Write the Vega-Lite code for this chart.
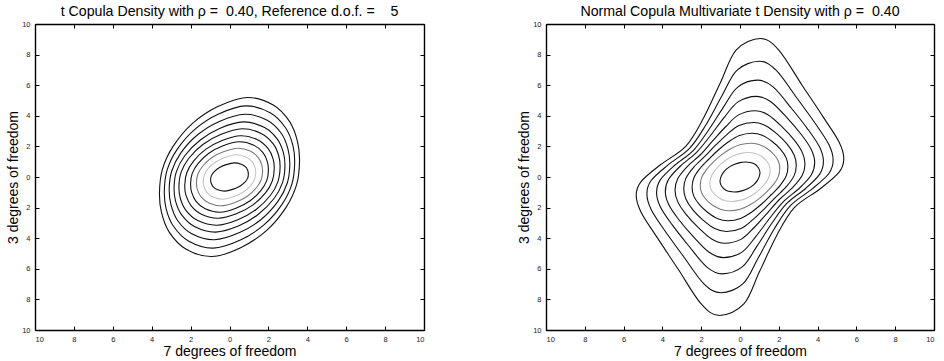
{
"$schema":"https://vega.github.io/schema/vega-lite/v6.json",
"background":"white",
"padding":{"left":6,"top":4,"right":5,"bottom":0},
"bounds":"flush",
"spacing":122,
"config":{
 "font":"Liberation Sans",
 "view":{"stroke":"black","strokeWidth":1},
 "axis":{"grid":false,"domainColor":"black","domainWidth":1.4,"tickColor":"black","tickSize":-4,"labelFontSize":7.5,"labelColor":"#222","titleFontSize":14,"titleFontWeight":"normal","titleColor":"black","labelPadding":9,"titlePadding":4},
 "title":{"fontSize":14.2,"fontWeight":"normal","offset":1,"color":"black"}
},
"data":{"values":[
{"p":"L","l":1,"i":0,"x":0.9,"y":5.2},{"p":"L","l":1,"i":1,"x":2.25,"y":4.7},{"p":"L","l":1,"i":2,"x":3.1,"y":3.6},{"p":"L","l":1,"i":3,"x":3.5,"y":2.3},{"p":"L","l":1,"i":4,"x":3.6,"y":1.0},{"p":"L","l":1,"i":5,"x":3.45,"y":-0.5},{"p":"L","l":1,"i":6,"x":2.9,"y":-2.0},{"p":"L","l":1,"i":7,"x":1.9,"y":-3.5},{"p":"L","l":1,"i":8,"x":0.6,"y":-4.6},
{"p":"L","l":1,"i":9,"x":-0.9,"y":-5.2},{"p":"L","l":1,"i":10,"x":-2.25,"y":-4.7},{"p":"L","l":1,"i":11,"x":-3.1,"y":-3.6},{"p":"L","l":1,"i":12,"x":-3.5,"y":-2.3},{"p":"L","l":1,"i":13,"x":-3.6,"y":-1.0},{"p":"L","l":1,"i":14,"x":-3.45,"y":0.5},{"p":"L","l":1,"i":15,"x":-2.9,"y":2.0},{"p":"L","l":1,"i":16,"x":-1.9,"y":3.5},{"p":"L","l":1,"i":17,"x":-0.6,"y":4.6},
{"p":"L","l":2,"i":0,"x":0.84,"y":4.65},{"p":"L","l":2,"i":1,"x":2.09,"y":4.2},{"p":"L","l":2,"i":2,"x":2.88,"y":3.22},{"p":"L","l":2,"i":3,"x":3.26,"y":2.06},{"p":"L","l":2,"i":4,"x":3.35,"y":0.89},{"p":"L","l":2,"i":5,"x":3.21,"y":-0.45},{"p":"L","l":2,"i":6,"x":2.7,"y":-1.79},{"p":"L","l":2,"i":7,"x":1.77,"y":-3.13},{"p":"L","l":2,"i":8,"x":0.56,"y":-4.12},
{"p":"L","l":2,"i":9,"x":-0.84,"y":-4.65},{"p":"L","l":2,"i":10,"x":-2.09,"y":-4.2},{"p":"L","l":2,"i":11,"x":-2.88,"y":-3.22},{"p":"L","l":2,"i":12,"x":-3.26,"y":-2.06},{"p":"L","l":2,"i":13,"x":-3.35,"y":-0.89},{"p":"L","l":2,"i":14,"x":-3.21,"y":0.45},{"p":"L","l":2,"i":15,"x":-2.7,"y":1.79},{"p":"L","l":2,"i":16,"x":-1.77,"y":3.13},{"p":"L","l":2,"i":17,"x":-0.56,"y":4.12},
{"p":"L","l":3,"i":0,"x":0.78,"y":4.1},{"p":"L","l":3,"i":1,"x":1.94,"y":3.71},{"p":"L","l":3,"i":2,"x":2.67,"y":2.84},{"p":"L","l":3,"i":3,"x":3.01,"y":1.81},{"p":"L","l":3,"i":4,"x":3.1,"y":0.79},{"p":"L","l":3,"i":5,"x":2.97,"y":-0.39},{"p":"L","l":3,"i":6,"x":2.5,"y":-1.58},{"p":"L","l":3,"i":7,"x":1.64,"y":-2.76},{"p":"L","l":3,"i":8,"x":0.52,"y":-3.63},
{"p":"L","l":3,"i":9,"x":-0.78,"y":-4.1},{"p":"L","l":3,"i":10,"x":-1.94,"y":-3.71},{"p":"L","l":3,"i":11,"x":-2.67,"y":-2.84},{"p":"L","l":3,"i":12,"x":-3.01,"y":-1.81},{"p":"L","l":3,"i":13,"x":-3.1,"y":-0.79},{"p":"L","l":3,"i":14,"x":-2.97,"y":0.39},{"p":"L","l":3,"i":15,"x":-2.5,"y":1.58},{"p":"L","l":3,"i":16,"x":-1.64,"y":2.76},{"p":"L","l":3,"i":17,"x":-0.52,"y":3.63},
{"p":"L","l":4,"i":0,"x":0.71,"y":3.6},{"p":"L","l":4,"i":1,"x":1.78,"y":3.25},{"p":"L","l":4,"i":2,"x":2.45,"y":2.49},{"p":"L","l":4,"i":3,"x":2.77,"y":1.59},{"p":"L","l":4,"i":4,"x":2.85,"y":0.69},{"p":"L","l":4,"i":5,"x":2.73,"y":-0.35},{"p":"L","l":4,"i":6,"x":2.3,"y":-1.39},{"p":"L","l":4,"i":7,"x":1.5,"y":-2.42},{"p":"L","l":4,"i":8,"x":0.48,"y":-3.19},
{"p":"L","l":4,"i":9,"x":-0.71,"y":-3.6},{"p":"L","l":4,"i":10,"x":-1.78,"y":-3.25},{"p":"L","l":4,"i":11,"x":-2.45,"y":-2.49},{"p":"L","l":4,"i":12,"x":-2.77,"y":-1.59},{"p":"L","l":4,"i":13,"x":-2.85,"y":-0.69},{"p":"L","l":4,"i":14,"x":-2.73,"y":0.35},{"p":"L","l":4,"i":15,"x":-2.3,"y":1.39},{"p":"L","l":4,"i":16,"x":-1.5,"y":2.42},{"p":"L","l":4,"i":17,"x":-0.48,"y":3.19},
{"p":"L","l":5,"i":0,"x":0.65,"y":3.15},{"p":"L","l":5,"i":1,"x":1.63,"y":2.85},{"p":"L","l":5,"i":2,"x":2.24,"y":2.18},{"p":"L","l":5,"i":3,"x":2.53,"y":1.39},{"p":"L","l":5,"i":4,"x":2.6,"y":0.6},{"p":"L","l":5,"i":5,"x":2.49,"y":-0.3},{"p":"L","l":5,"i":6,"x":2.1,"y":-1.21},{"p":"L","l":5,"i":7,"x":1.37,"y":-2.12},{"p":"L","l":5,"i":8,"x":0.43,"y":-2.79},
{"p":"L","l":5,"i":9,"x":-0.65,"y":-3.15},{"p":"L","l":5,"i":10,"x":-1.63,"y":-2.85},{"p":"L","l":5,"i":11,"x":-2.24,"y":-2.18},{"p":"L","l":5,"i":12,"x":-2.53,"y":-1.39},{"p":"L","l":5,"i":13,"x":-2.6,"y":-0.6},{"p":"L","l":5,"i":14,"x":-2.49,"y":0.3},{"p":"L","l":5,"i":15,"x":-2.1,"y":1.21},{"p":"L","l":5,"i":16,"x":-1.37,"y":2.12},{"p":"L","l":5,"i":17,"x":-0.43,"y":2.79},
{"p":"L","l":6,"i":0,"x":0.58,"y":2.7},{"p":"L","l":6,"i":1,"x":1.44,"y":2.44},{"p":"L","l":6,"i":2,"x":1.98,"y":1.87},{"p":"L","l":6,"i":3,"x":2.24,"y":1.19},{"p":"L","l":6,"i":4,"x":2.3,"y":0.52},{"p":"L","l":6,"i":5,"x":2.2,"y":-0.26},{"p":"L","l":6,"i":6,"x":1.85,"y":-1.04},{"p":"L","l":6,"i":7,"x":1.21,"y":-1.82},{"p":"L","l":6,"i":8,"x":0.38,"y":-2.39},
{"p":"L","l":6,"i":9,"x":-0.58,"y":-2.7},{"p":"L","l":6,"i":10,"x":-1.44,"y":-2.44},{"p":"L","l":6,"i":11,"x":-1.98,"y":-1.87},{"p":"L","l":6,"i":12,"x":-2.24,"y":-1.19},{"p":"L","l":6,"i":13,"x":-2.3,"y":-0.52},{"p":"L","l":6,"i":14,"x":-2.2,"y":0.26},{"p":"L","l":6,"i":15,"x":-1.85,"y":1.04},{"p":"L","l":6,"i":16,"x":-1.21,"y":1.82},{"p":"L","l":6,"i":17,"x":-0.38,"y":2.39},
{"p":"L","l":7,"i":0,"x":0.5,"y":2.3},{"p":"L","l":7,"i":1,"x":1.25,"y":2.08},{"p":"L","l":7,"i":2,"x":1.72,"y":1.59},{"p":"L","l":7,"i":3,"x":1.94,"y":1.02},{"p":"L","l":7,"i":4,"x":2.0,"y":0.44},{"p":"L","l":7,"i":5,"x":1.92,"y":-0.22},{"p":"L","l":7,"i":6,"x":1.61,"y":-0.89},{"p":"L","l":7,"i":7,"x":1.06,"y":-1.55},{"p":"L","l":7,"i":8,"x":0.33,"y":-2.04},
{"p":"L","l":7,"i":9,"x":-0.5,"y":-2.3},{"p":"L","l":7,"i":10,"x":-1.25,"y":-2.08},{"p":"L","l":7,"i":11,"x":-1.72,"y":-1.59},{"p":"L","l":7,"i":12,"x":-1.94,"y":-1.02},{"p":"L","l":7,"i":13,"x":-2.0,"y":-0.44},{"p":"L","l":7,"i":14,"x":-1.92,"y":0.22},{"p":"L","l":7,"i":15,"x":-1.61,"y":0.89},{"p":"L","l":7,"i":16,"x":-1.06,"y":1.55},{"p":"L","l":7,"i":17,"x":-0.33,"y":2.04},
{"p":"L","l":8,"i":0,"x":0.43,"y":1.88},{"p":"L","l":8,"i":1,"x":1.06,"y":1.7},{"p":"L","l":8,"i":2,"x":1.46,"y":1.3},{"p":"L","l":8,"i":3,"x":1.65,"y":0.83},{"p":"L","l":8,"i":4,"x":1.7,"y":0.36},{"p":"L","l":8,"i":5,"x":1.63,"y":-0.18},{"p":"L","l":8,"i":6,"x":1.37,"y":-0.72},{"p":"L","l":8,"i":7,"x":0.9,"y":-1.27},{"p":"L","l":8,"i":8,"x":0.28,"y":-1.66},
{"p":"L","l":8,"i":9,"x":-0.43,"y":-1.88},{"p":"L","l":8,"i":10,"x":-1.06,"y":-1.7},{"p":"L","l":8,"i":11,"x":-1.46,"y":-1.3},{"p":"L","l":8,"i":12,"x":-1.65,"y":-0.83},{"p":"L","l":8,"i":13,"x":-1.7,"y":-0.36},{"p":"L","l":8,"i":14,"x":-1.63,"y":0.18},{"p":"L","l":8,"i":15,"x":-1.37,"y":0.72},{"p":"L","l":8,"i":16,"x":-0.9,"y":1.27},{"p":"L","l":8,"i":17,"x":-0.28,"y":1.66},
{"p":"L","l":9,"i":0,"x":0.34,"y":1.45},{"p":"L","l":9,"i":1,"x":0.84,"y":1.31},{"p":"L","l":9,"i":2,"x":1.16,"y":1.0},{"p":"L","l":9,"i":3,"x":1.31,"y":0.64},{"p":"L","l":9,"i":4,"x":1.35,"y":0.28},{"p":"L","l":9,"i":5,"x":1.29,"y":-0.14},{"p":"L","l":9,"i":6,"x":1.09,"y":-0.56},{"p":"L","l":9,"i":7,"x":0.71,"y":-0.98},{"p":"L","l":9,"i":8,"x":0.23,"y":-1.28},
{"p":"L","l":9,"i":9,"x":-0.34,"y":-1.45},{"p":"L","l":9,"i":10,"x":-0.84,"y":-1.31},{"p":"L","l":9,"i":11,"x":-1.16,"y":-1.0},{"p":"L","l":9,"i":12,"x":-1.31,"y":-0.64},{"p":"L","l":9,"i":13,"x":-1.35,"y":-0.28},{"p":"L","l":9,"i":14,"x":-1.29,"y":0.14},{"p":"L","l":9,"i":15,"x":-1.09,"y":0.56},{"p":"L","l":9,"i":16,"x":-0.71,"y":0.98},{"p":"L","l":9,"i":17,"x":-0.23,"y":1.28},
{"p":"L","l":10,"i":0,"x":0.24,"y":0.92},{"p":"L","l":10,"i":1,"x":0.61,"y":0.83},{"p":"L","l":10,"i":2,"x":0.84,"y":0.64},{"p":"L","l":10,"i":3,"x":0.94,"y":0.41},{"p":"L","l":10,"i":4,"x":0.97,"y":0.18},{"p":"L","l":10,"i":5,"x":0.93,"y":-0.09},{"p":"L","l":10,"i":6,"x":0.78,"y":-0.35},{"p":"L","l":10,"i":7,"x":0.51,"y":-0.62},{"p":"L","l":10,"i":8,"x":0.16,"y":-0.81},
{"p":"L","l":10,"i":9,"x":-0.24,"y":-0.92},{"p":"L","l":10,"i":10,"x":-0.61,"y":-0.83},{"p":"L","l":10,"i":11,"x":-0.84,"y":-0.64},{"p":"L","l":10,"i":12,"x":-0.94,"y":-0.41},{"p":"L","l":10,"i":13,"x":-0.97,"y":-0.18},{"p":"L","l":10,"i":14,"x":-0.93,"y":0.09},{"p":"L","l":10,"i":15,"x":-0.78,"y":0.35},{"p":"L","l":10,"i":16,"x":-0.51,"y":0.62},{"p":"L","l":10,"i":17,"x":-0.16,"y":0.81},
{"p":"R","l":1,"i":0,"x":1.05,"y":9.05},{"p":"R","l":1,"i":1,"x":2.0,"y":8.3},{"p":"R","l":1,"i":2,"x":3.2,"y":6.0},{"p":"R","l":1,"i":3,"x":4.3,"y":3.9},{"p":"R","l":1,"i":4,"x":5.1,"y":2.3},{"p":"R","l":1,"i":5,"x":5.35,"y":1.2},{"p":"R","l":1,"i":6,"x":5.1,"y":0.3},{"p":"R","l":1,"i":7,"x":4.1,"y":-0.8},{"p":"R","l":1,"i":8,"x":2.8,"y":-2.0},{"p":"R","l":1,"i":9,"x":1.9,"y":-3.8},{"p":"R","l":1,"i":10,"x":1.0,"y":-6.2},{"p":"R","l":1,"i":11,"x":0.2,"y":-8.3},
{"p":"R","l":1,"i":12,"x":-1.05,"y":-9.05},{"p":"R","l":1,"i":13,"x":-2.0,"y":-8.3},{"p":"R","l":1,"i":14,"x":-3.2,"y":-6.0},{"p":"R","l":1,"i":15,"x":-4.3,"y":-3.9},{"p":"R","l":1,"i":16,"x":-5.1,"y":-2.3},{"p":"R","l":1,"i":17,"x":-5.35,"y":-1.2},{"p":"R","l":1,"i":18,"x":-5.1,"y":-0.3},{"p":"R","l":1,"i":19,"x":-4.1,"y":0.8},{"p":"R","l":1,"i":20,"x":-2.8,"y":2.0},{"p":"R","l":1,"i":21,"x":-1.9,"y":3.8},{"p":"R","l":1,"i":22,"x":-1.0,"y":6.2},{"p":"R","l":1,"i":23,"x":-0.2,"y":8.3},
{"p":"R","l":2,"i":0,"x":0.98,"y":7.57},{"p":"R","l":2,"i":1,"x":1.86,"y":6.98},{"p":"R","l":2,"i":2,"x":2.92,"y":5.18},{"p":"R","l":2,"i":3,"x":3.89,"y":3.48},{"p":"R","l":2,"i":4,"x":4.58,"y":2.12},{"p":"R","l":2,"i":5,"x":4.8,"y":1.11},{"p":"R","l":2,"i":6,"x":4.58,"y":0.23},{"p":"R","l":2,"i":7,"x":3.72,"y":-0.78},{"p":"R","l":2,"i":8,"x":2.6,"y":-1.87},{"p":"R","l":2,"i":9,"x":1.77,"y":-3.38},{"p":"R","l":2,"i":10,"x":0.93,"y":-5.31},{"p":"R","l":2,"i":11,"x":0.16,"y":-6.97},
{"p":"R","l":2,"i":12,"x":-0.98,"y":-7.57},{"p":"R","l":2,"i":13,"x":-1.86,"y":-6.98},{"p":"R","l":2,"i":14,"x":-2.92,"y":-5.18},{"p":"R","l":2,"i":15,"x":-3.89,"y":-3.48},{"p":"R","l":2,"i":16,"x":-4.58,"y":-2.12},{"p":"R","l":2,"i":17,"x":-4.8,"y":-1.11},{"p":"R","l":2,"i":18,"x":-4.58,"y":-0.23},{"p":"R","l":2,"i":19,"x":-3.72,"y":0.78},{"p":"R","l":2,"i":20,"x":-2.6,"y":1.87},{"p":"R","l":2,"i":21,"x":-1.77,"y":3.38},{"p":"R","l":2,"i":22,"x":-0.93,"y":5.31},{"p":"R","l":2,"i":23,"x":-0.16,"y":6.97},
{"p":"R","l":3,"i":0,"x":0.91,"y":6.33},{"p":"R","l":3,"i":1,"x":1.72,"y":5.87},{"p":"R","l":3,"i":2,"x":2.67,"y":4.46},{"p":"R","l":3,"i":3,"x":3.51,"y":3.1},{"p":"R","l":3,"i":4,"x":4.11,"y":1.94},{"p":"R","l":3,"i":5,"x":4.3,"y":1.03},{"p":"R","l":3,"i":6,"x":4.11,"y":0.19},{"p":"R","l":3,"i":7,"x":3.38,"y":-0.75},{"p":"R","l":3,"i":8,"x":2.41,"y":-1.73},{"p":"R","l":3,"i":9,"x":1.65,"y":-3.01},{"p":"R","l":3,"i":10,"x":0.86,"y":-4.55},{"p":"R","l":3,"i":11,"x":0.13,"y":-5.86},
{"p":"R","l":3,"i":12,"x":-0.91,"y":-6.33},{"p":"R","l":3,"i":13,"x":-1.72,"y":-5.87},{"p":"R","l":3,"i":14,"x":-2.67,"y":-4.46},{"p":"R","l":3,"i":15,"x":-3.51,"y":-3.1},{"p":"R","l":3,"i":16,"x":-4.11,"y":-1.94},{"p":"R","l":3,"i":17,"x":-4.3,"y":-1.03},{"p":"R","l":3,"i":18,"x":-4.11,"y":-0.19},{"p":"R","l":3,"i":19,"x":-3.38,"y":0.75},{"p":"R","l":3,"i":20,"x":-2.41,"y":1.73},{"p":"R","l":3,"i":21,"x":-1.65,"y":3.01},{"p":"R","l":3,"i":22,"x":-0.86,"y":4.55},{"p":"R","l":3,"i":23,"x":-0.13,"y":5.86},
{"p":"R","l":4,"i":0,"x":0.85,"y":5.27},{"p":"R","l":4,"i":1,"x":1.59,"y":4.92},{"p":"R","l":4,"i":2,"x":2.44,"y":3.85},{"p":"R","l":4,"i":3,"x":3.17,"y":2.76},{"p":"R","l":4,"i":4,"x":3.68,"y":1.78},{"p":"R","l":4,"i":5,"x":3.85,"y":0.94},{"p":"R","l":4,"i":6,"x":3.68,"y":0.15},{"p":"R","l":4,"i":7,"x":3.07,"y":-0.72},{"p":"R","l":4,"i":8,"x":2.24,"y":-1.61},{"p":"R","l":4,"i":9,"x":1.54,"y":-2.68},{"p":"R","l":4,"i":10,"x":0.81,"y":-3.9},{"p":"R","l":4,"i":11,"x":0.1,"y":-4.91},
{"p":"R","l":4,"i":12,"x":-0.85,"y":-5.27},{"p":"R","l":4,"i":13,"x":-1.59,"y":-4.92},{"p":"R","l":4,"i":14,"x":-2.44,"y":-3.85},{"p":"R","l":4,"i":15,"x":-3.17,"y":-2.76},{"p":"R","l":4,"i":16,"x":-3.68,"y":-1.78},{"p":"R","l":4,"i":17,"x":-3.85,"y":-0.94},{"p":"R","l":4,"i":18,"x":-3.68,"y":-0.15},{"p":"R","l":4,"i":19,"x":-3.07,"y":0.72},{"p":"R","l":4,"i":20,"x":-2.24,"y":1.61},{"p":"R","l":4,"i":21,"x":-1.54,"y":2.68},{"p":"R","l":4,"i":22,"x":-0.81,"y":3.9},{"p":"R","l":4,"i":23,"x":-0.1,"y":4.91},
{"p":"R","l":5,"i":0,"x":0.78,"y":4.33},{"p":"R","l":5,"i":1,"x":1.44,"y":4.07},{"p":"R","l":5,"i":2,"x":2.17,"y":3.28},{"p":"R","l":5,"i":3,"x":2.79,"y":2.43},{"p":"R","l":5,"i":4,"x":3.21,"y":1.61},{"p":"R","l":5,"i":5,"x":3.35,"y":0.85},{"p":"R","l":5,"i":6,"x":3.21,"y":0.11},{"p":"R","l":5,"i":7,"x":2.72,"y":-0.68},{"p":"R","l":5,"i":8,"x":2.03,"y":-1.47},{"p":"R","l":5,"i":9,"x":1.41,"y":-2.36},{"p":"R","l":5,"i":10,"x":0.73,"y":-3.3},{"p":"R","l":5,"i":11,"x":0.07,"y":-4.06},
{"p":"R","l":5,"i":12,"x":-0.78,"y":-4.33},{"p":"R","l":5,"i":13,"x":-1.44,"y":-4.07},{"p":"R","l":5,"i":14,"x":-2.17,"y":-3.28},{"p":"R","l":5,"i":15,"x":-2.79,"y":-2.43},{"p":"R","l":5,"i":16,"x":-3.21,"y":-1.61},{"p":"R","l":5,"i":17,"x":-3.35,"y":-0.85},{"p":"R","l":5,"i":18,"x":-3.21,"y":-0.11},{"p":"R","l":5,"i":19,"x":-2.72,"y":0.68},{"p":"R","l":5,"i":20,"x":-2.03,"y":1.47},{"p":"R","l":5,"i":21,"x":-1.41,"y":2.36},{"p":"R","l":5,"i":22,"x":-0.73,"y":3.3},{"p":"R","l":5,"i":23,"x":-0.07,"y":4.06},
{"p":"R","l":6,"i":0,"x":0.7,"y":3.56},{"p":"R","l":6,"i":1,"x":1.3,"y":3.37},{"p":"R","l":6,"i":2,"x":1.92,"y":2.8},{"p":"R","l":6,"i":3,"x":2.44,"y":2.13},{"p":"R","l":6,"i":4,"x":2.79,"y":1.44},{"p":"R","l":6,"i":5,"x":2.9,"y":0.77},{"p":"R","l":6,"i":6,"x":2.79,"y":0.09},{"p":"R","l":6,"i":7,"x":2.39,"y":-0.63},{"p":"R","l":6,"i":8,"x":1.83,"y":-1.33},{"p":"R","l":6,"i":9,"x":1.27,"y":-2.06},{"p":"R","l":6,"i":10,"x":0.66,"y":-2.79},{"p":"R","l":6,"i":11,"x":0.05,"y":-3.36},
{"p":"R","l":6,"i":12,"x":-0.7,"y":-3.56},{"p":"R","l":6,"i":13,"x":-1.3,"y":-3.37},{"p":"R","l":6,"i":14,"x":-1.92,"y":-2.8},{"p":"R","l":6,"i":15,"x":-2.44,"y":-2.13},{"p":"R","l":6,"i":16,"x":-2.79,"y":-1.44},{"p":"R","l":6,"i":17,"x":-2.9,"y":-0.77},{"p":"R","l":6,"i":18,"x":-2.79,"y":-0.09},{"p":"R","l":6,"i":19,"x":-2.39,"y":0.63},{"p":"R","l":6,"i":20,"x":-1.83,"y":1.33},{"p":"R","l":6,"i":21,"x":-1.27,"y":2.06},{"p":"R","l":6,"i":22,"x":-0.66,"y":2.79},{"p":"R","l":6,"i":23,"x":-0.05,"y":3.36},
{"p":"R","l":7,"i":0,"x":0.62,"y":2.86},{"p":"R","l":7,"i":1,"x":1.14,"y":2.73},{"p":"R","l":7,"i":2,"x":1.66,"y":2.32},{"p":"R","l":7,"i":3,"x":2.09,"y":1.81},{"p":"R","l":7,"i":4,"x":2.38,"y":1.25},{"p":"R","l":7,"i":5,"x":2.47,"y":0.67},{"p":"R","l":7,"i":6,"x":2.38,"y":0.06},{"p":"R","l":7,"i":7,"x":2.06,"y":-0.56},{"p":"R","l":7,"i":8,"x":1.61,"y":-1.16},{"p":"R","l":7,"i":9,"x":1.13,"y":-1.75},{"p":"R","l":7,"i":10,"x":0.59,"y":-2.3},{"p":"R","l":7,"i":11,"x":0.03,"y":-2.71},
{"p":"R","l":7,"i":12,"x":-0.62,"y":-2.86},{"p":"R","l":7,"i":13,"x":-1.14,"y":-2.73},{"p":"R","l":7,"i":14,"x":-1.66,"y":-2.32},{"p":"R","l":7,"i":15,"x":-2.09,"y":-1.81},{"p":"R","l":7,"i":16,"x":-2.38,"y":-1.25},{"p":"R","l":7,"i":17,"x":-2.47,"y":-0.67},{"p":"R","l":7,"i":18,"x":-2.38,"y":-0.06},{"p":"R","l":7,"i":19,"x":-2.06,"y":0.56},{"p":"R","l":7,"i":20,"x":-1.61,"y":1.16},{"p":"R","l":7,"i":21,"x":-1.13,"y":1.75},{"p":"R","l":7,"i":22,"x":-0.59,"y":2.3},{"p":"R","l":7,"i":23,"x":-0.03,"y":2.71},
{"p":"R","l":8,"i":0,"x":0.54,"y":2.21},{"p":"R","l":8,"i":1,"x":0.98,"y":2.12},{"p":"R","l":8,"i":2,"x":1.41,"y":1.85},{"p":"R","l":8,"i":3,"x":1.75,"y":1.47},{"p":"R","l":8,"i":4,"x":1.98,"y":1.03},{"p":"R","l":8,"i":5,"x":2.05,"y":0.55},{"p":"R","l":8,"i":6,"x":1.98,"y":0.04},{"p":"R","l":8,"i":7,"x":1.74,"y":-0.47},{"p":"R","l":8,"i":8,"x":1.38,"y":-0.97},{"p":"R","l":8,"i":9,"x":0.97,"y":-1.43},{"p":"R","l":8,"i":10,"x":0.5,"y":-1.83},{"p":"R","l":8,"i":11,"x":0.01,"y":-2.11},
{"p":"R","l":8,"i":12,"x":-0.54,"y":-2.21},{"p":"R","l":8,"i":13,"x":-0.98,"y":-2.12},{"p":"R","l":8,"i":14,"x":-1.41,"y":-1.85},{"p":"R","l":8,"i":15,"x":-1.75,"y":-1.47},{"p":"R","l":8,"i":16,"x":-1.98,"y":-1.03},{"p":"R","l":8,"i":17,"x":-2.05,"y":-0.55},{"p":"R","l":8,"i":18,"x":-1.98,"y":-0.04},{"p":"R","l":8,"i":19,"x":-1.74,"y":0.47},{"p":"R","l":8,"i":20,"x":-1.38,"y":0.97},{"p":"R","l":8,"i":21,"x":-0.97,"y":1.43},{"p":"R","l":8,"i":22,"x":-0.5,"y":1.83},{"p":"R","l":8,"i":23,"x":-0.01,"y":2.11},
{"p":"R","l":9,"i":0,"x":0.42,"y":1.6},{"p":"R","l":9,"i":1,"x":0.76,"y":1.55},{"p":"R","l":9,"i":2,"x":1.08,"y":1.37},{"p":"R","l":9,"i":3,"x":1.33,"y":1.11},{"p":"R","l":9,"i":4,"x":1.5,"y":0.79},{"p":"R","l":9,"i":5,"x":1.55,"y":0.42},{"p":"R","l":9,"i":6,"x":1.5,"y":0.03},{"p":"R","l":9,"i":7,"x":1.33,"y":-0.37},{"p":"R","l":9,"i":8,"x":1.07,"y":-0.74},{"p":"R","l":9,"i":9,"x":0.76,"y":-1.08},{"p":"R","l":9,"i":10,"x":0.39,"y":-1.35},{"p":"R","l":9,"i":11,"x":0.0,"y":-1.53},
{"p":"R","l":9,"i":12,"x":-0.42,"y":-1.6},{"p":"R","l":9,"i":13,"x":-0.76,"y":-1.55},{"p":"R","l":9,"i":14,"x":-1.08,"y":-1.37},{"p":"R","l":9,"i":15,"x":-1.33,"y":-1.11},{"p":"R","l":9,"i":16,"x":-1.5,"y":-0.79},{"p":"R","l":9,"i":17,"x":-1.55,"y":-0.42},{"p":"R","l":9,"i":18,"x":-1.5,"y":-0.03},{"p":"R","l":9,"i":19,"x":-1.33,"y":0.37},{"p":"R","l":9,"i":20,"x":-1.07,"y":0.74},{"p":"R","l":9,"i":21,"x":-0.76,"y":1.08},{"p":"R","l":9,"i":22,"x":-0.39,"y":1.35},{"p":"R","l":9,"i":23,"x":0.0,"y":1.53},
{"p":"R","l":10,"i":0,"x":0.28,"y":0.98},{"p":"R","l":10,"i":1,"x":0.52,"y":0.95},{"p":"R","l":10,"i":2,"x":0.73,"y":0.86},{"p":"R","l":10,"i":3,"x":0.89,"y":0.7},{"p":"R","l":10,"i":4,"x":0.99,"y":0.5},{"p":"R","l":10,"i":5,"x":1.03,"y":0.27},{"p":"R","l":10,"i":6,"x":0.99,"y":0.02},{"p":"R","l":10,"i":7,"x":0.89,"y":-0.24},{"p":"R","l":10,"i":8,"x":0.73,"y":-0.48},{"p":"R","l":10,"i":9,"x":0.52,"y":-0.68},{"p":"R","l":10,"i":10,"x":0.27,"y":-0.84},{"p":"R","l":10,"i":11,"x":0.0,"y":-0.94},
{"p":"R","l":10,"i":12,"x":-0.28,"y":-0.98},{"p":"R","l":10,"i":13,"x":-0.52,"y":-0.95},{"p":"R","l":10,"i":14,"x":-0.73,"y":-0.86},{"p":"R","l":10,"i":15,"x":-0.89,"y":-0.7},{"p":"R","l":10,"i":16,"x":-0.99,"y":-0.5},{"p":"R","l":10,"i":17,"x":-1.03,"y":-0.27},{"p":"R","l":10,"i":18,"x":-0.99,"y":-0.02},{"p":"R","l":10,"i":19,"x":-0.89,"y":0.24},{"p":"R","l":10,"i":20,"x":-0.73,"y":0.48},{"p":"R","l":10,"i":21,"x":-0.52,"y":0.68},{"p":"R","l":10,"i":22,"x":-0.27,"y":0.84},{"p":"R","l":10,"i":23,"x":0.0,"y":0.94}
]},
"hconcat":[
{
 "title":"t Copula Density with ρ =\u00a0 0.40, Reference d.o.f. =\u00a0\u00a0\u00a0 5",
 "width":389,"height":306,
 "transform":[{"filter":"datum.p == 'L'"}],
 "layer":[
  {"mark":{"type":"line","interpolate":"cardinal-closed","strokeWidth":1.1},
   "encoding":{
    "x":{"field":"x","type":"quantitative","scale":{"domain":[-10,10],"nice":false,"zero":false},"axis":{"values":[-10,-8,-6,-4,-2,0,2,4,6,8,10],"labelExpr":"'' + abs(datum.value)","title":"7 degrees of freedom","titlePadding":2}},
    "y":{"field":"y","type":"quantitative","scale":{"domain":[-10,10],"nice":false,"zero":false},"axis":{"values":[-10,-8,-6,-4,-2,0,2,4,6,8,10],"labelExpr":"'' + abs(datum.value)","title":"3 degrees of freedom","titlePadding":1}},
    "order":{"field":"i","type":"quantitative"},
    "detail":{"field":"l","type":"nominal"},
    "color":{"field":"l","type":"ordinal","scale":{"domain":[1,2,3,4,5,6,7,8,9,10],"range":["#111","#111","#111","#111","#111","#111","#111","#7a7a7a","#c4c4c4","#111"]},"legend":null}
   }},
  {"mark":{"type":"point","opacity":0},
   "encoding":{
    "x":{"field":"x","type":"quantitative","axis":{"orient":"top","values":[-10,-8,-6,-4,-2,0,2,4,6,8,10],"labels":false,"title":null}},
    "y":{"field":"y","type":"quantitative","axis":{"orient":"right","values":[-10,-8,-6,-4,-2,0,2,4,6,8,10],"labels":false,"title":null}}
   }}
 ],
 "resolve":{"axis":{"x":"independent","y":"independent"}}
},
{
 "title":"Normal Copula Multivariate t Density with ρ =\u00a0 0.40",
 "width":388,"height":306,
 "transform":[{"filter":"datum.p == 'R'"}],
 "layer":[
  {"mark":{"type":"line","interpolate":"cardinal-closed","strokeWidth":1.1},
   "encoding":{
    "x":{"field":"x","type":"quantitative","scale":{"domain":[-10,10],"nice":false,"zero":false},"axis":{"values":[-10,-8,-6,-4,-2,0,2,4,6,8,10],"labelExpr":"'' + abs(datum.value)","title":"7 degrees of freedom","titlePadding":2}},
    "y":{"field":"y","type":"quantitative","scale":{"domain":[-10,10],"nice":false,"zero":false},"axis":{"values":[-10,-8,-6,-4,-2,0,2,4,6,8,10],"labelExpr":"'' + abs(datum.value)","title":"3 degrees of freedom","titlePadding":1}},
    "order":{"field":"i","type":"quantitative"},
    "detail":{"field":"l","type":"nominal"},
    "color":{"field":"l","type":"ordinal","scale":{"domain":[1,2,3,4,5,6,7,8,9,10],"range":["#111","#111","#111","#111","#111","#111","#111","#7a7a7a","#c4c4c4","#111"]},"legend":null}
   }},
  {"mark":{"type":"point","opacity":0},
   "encoding":{
    "x":{"field":"x","type":"quantitative","axis":{"orient":"top","values":[-10,-8,-6,-4,-2,0,2,4,6,8,10],"labels":false,"title":null}},
    "y":{"field":"y","type":"quantitative","axis":{"orient":"right","values":[-10,-8,-6,-4,-2,0,2,4,6,8,10],"labels":false,"title":null}}
   }}
 ],
 "resolve":{"axis":{"x":"independent","y":"independent"}}
}
]
}
